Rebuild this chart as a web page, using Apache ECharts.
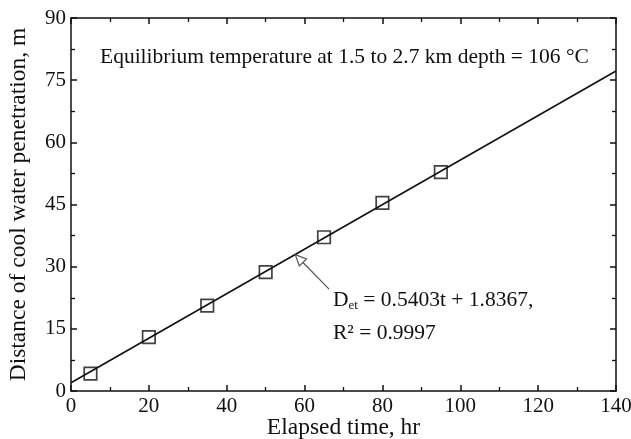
<!DOCTYPE html>
<html>
<head>
<meta charset="utf-8">
<script src="https://cdn.jsdelivr.net/npm/echarts@6/dist/echarts.min.js"></script>
<style>
  html, body { margin: 0; padding: 0; background: #fff; }
  #chart { width: 631px; height: 439px; }
</style>
</head>
<body>
<div id="chart"></div>
<script>
// measured points (elapsed time hr, distance m)
var times = [5, 20, 35, 50, 65, 80, 95];
var distances = [4.2, 13.0, 20.6, 28.7, 37.1, 45.4, 52.8];
// fitted line end points
var fitX = [0, 140];
var fitY = [2.0, 77.2];
// annotation arrow: tail -> tip (data coords)
var arrowFrom = [66.3, 24.6];
var arrowTo = [57.6, 32.9];

var font = 'Liberation Serif';
var black = '#111';

var axisCommon = {
  axisLine: { show: true, onZero: false, lineStyle: { color: black, width: 1.5 } },
  axisTick: { show: true, inside: true, length: 6, lineStyle: { color: black, width: 1.5 } },
  minorTick: { show: true, splitNumber: 2, length: 4, lineStyle: { color: black, width: 1.3 } },
  splitLine: { show: false },
  axisLabel: { color: black, fontFamily: font, fontSize: 21, margin: 5 }
};
var nameStyle = { color: black, fontFamily: font, fontSize: 23.5 };

var chart = echarts.init(document.getElementById('chart'));

chart.setOption({
  animation: false,
  grid: { left: 71, right: 15, top: 18, bottom: 48, outerBoundsMode: 'none', containLabel: false },
  xAxis: [
    Object.assign({}, axisCommon, {
      type: 'value', min: 0, max: 140, interval: 20,
      name: 'Elapsed time, hr', nameLocation: 'middle', nameGap: 25, nameMoveOverlap: false,
      nameTextStyle: nameStyle
    }),
    Object.assign({}, axisCommon, {
      type: 'value', min: 0, max: 140, interval: 20, position: 'top',
      axisLabel: { show: false }
    })
  ],
  yAxis: [
    Object.assign({}, axisCommon, {
      type: 'value', min: 0, max: 90, interval: 15,
      name: 'Distance of cool water penetration, m', nameLocation: 'middle', nameGap: 40,
      nameMoveOverlap: false,
      nameTextStyle: nameStyle
    }),
    Object.assign({}, axisCommon, {
      type: 'value', min: 0, max: 90, interval: 15, position: 'right',
      axisLabel: { show: false }
    })
  ],
  series: [
    {
      type: 'line',
      data: fitX.map(function (x, i) { return [x, fitY[i]]; }),
      symbol: 'none',
      lineStyle: { color: black, width: 1.6 },
      z: 2
    },
    {
      type: 'scatter',
      data: times.map(function (t, i) { return [t, distances[i]]; }),
      symbol: 'rect',
      symbolSize: 12.5,
      itemStyle: { color: 'rgba(255,255,255,0)', borderColor: black, borderWidth: 1.7 },
      z: 3
    },
    {
      type: 'custom',
      data: [[arrowFrom[0], arrowFrom[1], arrowTo[0], arrowTo[1]]],
      renderItem: function (params, api) {
        var a = api.coord([api.value(0), api.value(1)]);
        var b = api.coord([api.value(2), api.value(3)]);
        var dx = b[0] - a[0], dy = b[1] - a[1];
        var len = Math.sqrt(dx * dx + dy * dy);
        var ux = dx / len, uy = dy / len;
        var hl = 11, hw = 5;
        var bx = b[0] - ux * hl, by = b[1] - uy * hl;
        var p1 = [bx - uy * hw, by + ux * hw];
        var p2 = [bx + uy * hw, by - ux * hw];
        return {
          type: 'group',
          children: [
            { type: 'line', shape: { x1: a[0], y1: a[1], x2: bx, y2: by },
              style: { stroke: '#555', lineWidth: 1.2 } },
            { type: 'polygon', shape: { points: [b, p1, p2] },
              style: { fill: '#fff', stroke: '#555', lineWidth: 1.2 } }
          ]
        };
      },
      z: 4
    }
  ],
  graphic: [
    { type: 'text', left: 100, top: 46,
      style: { text: 'Equilibrium temperature at 1.5 to 2.7 km depth = 106 °C',
        font: '21.5px "Liberation Serif"', fill: black } },
    { type: 'text', left: 333, top: 289,
      style: { text: '{d|D}{s|et}{d| = 0.5403t + 1.8367,}',
        rich: {
          d: { fontFamily: font, fontSize: 21.5, fill: black, color: black },
          s: { fontFamily: font, fontSize: 13, fill: black, color: black, padding: [12, 0, 0, 0] }
        } } },
    { type: 'text', left: 333, top: 322,
      style: { text: 'R² = 0.9997', font: '21.5px "Liberation Serif"', fill: black } }
  ]
});
</script>
</body>
</html>
